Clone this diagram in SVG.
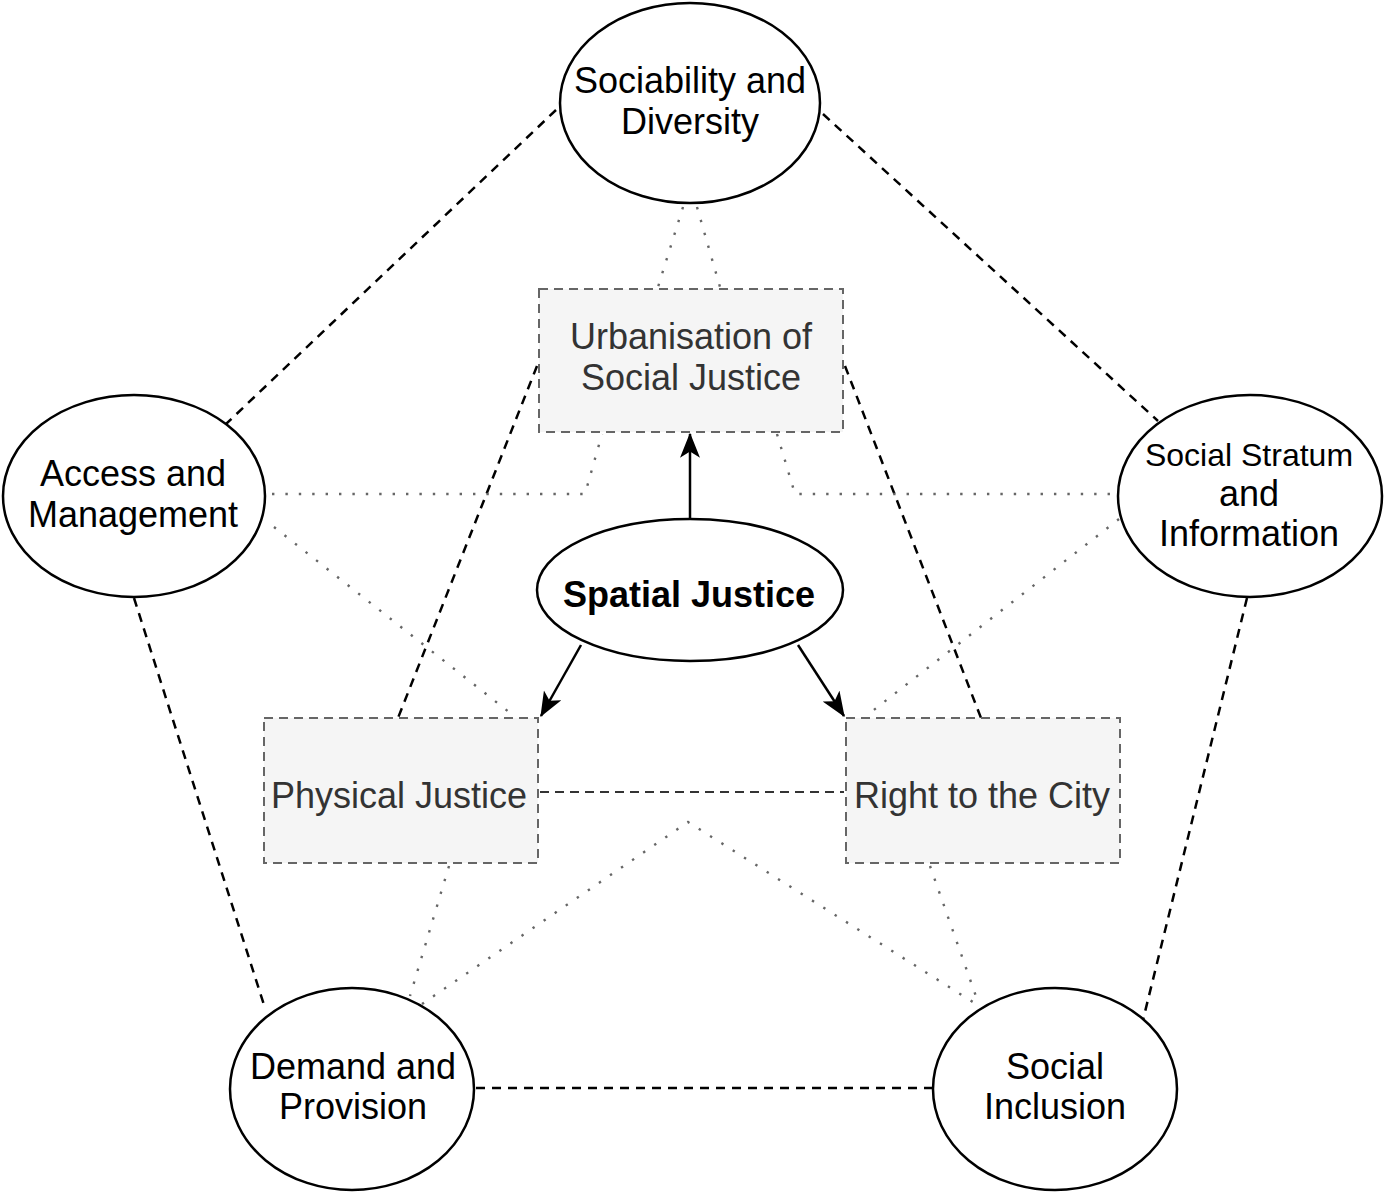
<svg xmlns="http://www.w3.org/2000/svg" width="1387" height="1197" viewBox="0 0 1387 1197">
<defs>
<style>
.ell{fill:#fff;stroke:#000;stroke-width:2.5}
.box{fill:#f5f5f5;stroke:#666;stroke-width:2;stroke-dasharray:9 6}
.t{font-family:"Liberation Sans",Arial,sans-serif;font-size:36px;fill:#000;text-anchor:middle}
.tb{font-family:"Liberation Sans",Arial,sans-serif;font-size:36px;fill:#333;text-anchor:middle}
.dash{fill:none;stroke:#000;stroke-width:2.5;stroke-dasharray:9 7}
.dash2{fill:none;stroke:#333;stroke-width:2;stroke-dasharray:9 6}
.dot{fill:none;stroke:#666;stroke-width:2.4;stroke-dasharray:2.4 11}
.arr{fill:none;stroke:#000;stroke-width:2.5;marker-end:url(#ah)}
</style>
<marker id="ah" viewBox="0 0 20 16" refX="19" refY="8" markerUnits="userSpaceOnUse" markerWidth="26" markerHeight="20" orient="auto">
<path d="M0,0 L20,8 L0,16 L5,8 Z" fill="#000"/>
</marker>
</defs>
<g id="connectors">
<path class="dash" d="M556,110 L226,424"/>
<path class="dash" d="M823,114 L1158,421"/>
<path class="dash" d="M134,598 L265,1008"/>
<path class="dash" d="M1247,598 L1143,1020"/>
<path class="dash" d="M476,1088 L932,1088"/>
<path class="dash" d="M537,366 L398,718"/>
<path class="dash" d="M845,366 L981,718"/>
<path class="dash2" d="M540,792 L844,792"/>
<path class="dot" d="M683,207 L658,287"/>
<path class="dot" d="M697,207 L720,287"/>
<path class="dot" d="M272,494 L585,494 L602,434"/>
<path class="dot" d="M777,434 L795,494 L1117,494"/>
<path class="dot" d="M274,527 L514,716"/>
<path class="dot" d="M1119,519 L866,716"/>
<path class="dot" d="M449,866 L410,996"/>
<path class="dot" d="M422,1004 L688,822 L976,1004"/>
<path class="dot" d="M930,866 L978,1002"/>
<path class="arr" d="M690,518 L690,434"/>
<path class="arr" d="M581,645 L541,716"/>
<path class="arr" d="M798,645 L844,716"/>
</g>
<g id="sociability">
<ellipse class="ell" cx="690" cy="103" rx="130" ry="100"/>
<text class="t" x="690" y="93">Sociability and</text>
<text class="t" x="690" y="134">Diversity</text>
</g>
<g id="access">
<ellipse class="ell" cx="134" cy="496" rx="131" ry="101"/>
<text class="t" x="133" y="486">Access and</text>
<text class="t" x="133" y="527">Management</text>
</g>
<g id="stratum">
<ellipse class="ell" cx="1250" cy="496" rx="132" ry="101"/>
<text class="t" x="1249" y="466" style="font-size:32px">Social Stratum</text>
<text class="t" x="1249" y="506">and</text>
<text class="t" x="1249" y="546">Information</text>
</g>
<g id="demand">
<ellipse class="ell" cx="352" cy="1089" rx="122" ry="101"/>
<text class="t" x="353" y="1079">Demand and</text>
<text class="t" x="353" y="1119">Provision</text>
</g>
<g id="inclusion">
<ellipse class="ell" cx="1055" cy="1089" rx="122" ry="101"/>
<text class="t" x="1055" y="1079">Social</text>
<text class="t" x="1055" y="1119">Inclusion</text>
</g>
<g id="urbanisation">
<rect class="box" x="539" y="289" width="304" height="143"/>
<text class="tb" x="691" y="349">Urbanisation of</text>
<text class="tb" x="691" y="390">Social Justice</text>
</g>
<g id="spatial">
<ellipse class="ell" cx="690" cy="590" rx="153" ry="71"/>
<text class="t" x="689" y="607" style="font-weight:bold">Spatial Justice</text>
</g>
<g id="physical">
<rect class="box" x="264" y="718" width="274" height="145"/>
<text class="tb" x="399" y="808">Physical Justice</text>
</g>
<g id="right">
<rect class="box" x="846" y="718" width="274" height="145"/>
<text class="tb" x="982" y="808">Right to the City</text>
</g>
</svg>
